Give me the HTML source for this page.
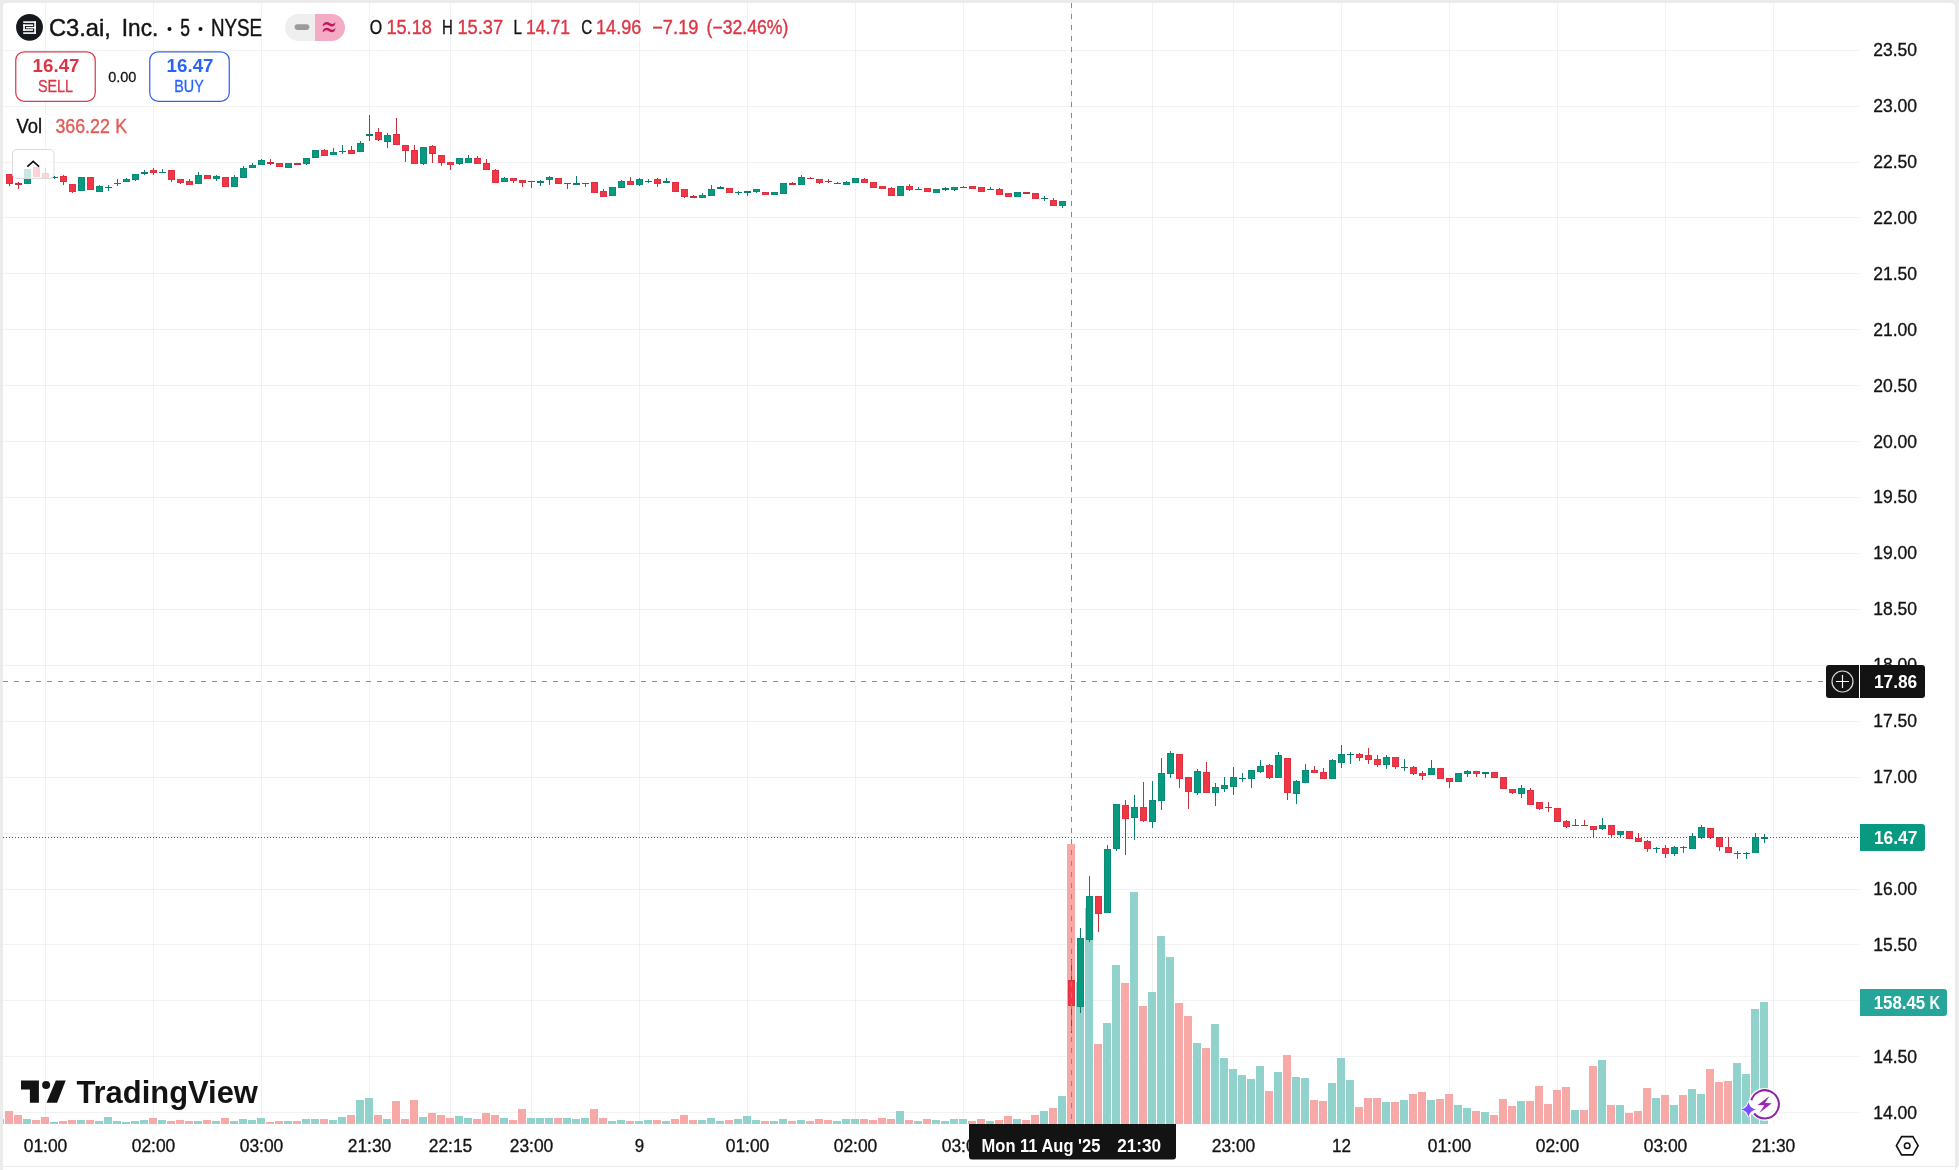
<!DOCTYPE html><html><head><meta charset="utf-8"><title>C3.ai chart</title>
<style>html,body{margin:0;padding:0;background:#ebebeb;}body{width:1959px;height:1170px;overflow:hidden;position:relative;font-family:"Liberation Sans",sans-serif;}svg{position:absolute;left:0;top:0;display:block;will-change:transform;}text{font-family:"Liberation Sans",sans-serif;}</style></head><body>
<svg width="1959" height="1170" viewBox="0 0 1959 1170">
<rect x="0" y="0" width="1959" height="1170" fill="#ebebeb"/>
<path d="M3 1166 V7 a4 4 0 0 1 4 -4 H1951 a4 4 0 0 1 4 4 V1166 Z" fill="#ffffff"/>
<rect x="3" y="1167" width="1952" height="3" fill="#ffffff"/>
<path d="M1959 1166 a4 4 0 0 0 -3 4 h3 z" fill="#ffffff"/>
<g shape-rendering="crispEdges">
<rect x="3" y="50" width="1856" height="1" fill="rgba(0,0,0,0.052)"/>
<rect x="3" y="106" width="1856" height="1" fill="rgba(0,0,0,0.052)"/>
<rect x="3" y="162" width="1856" height="1" fill="rgba(0,0,0,0.052)"/>
<rect x="3" y="217" width="1856" height="1" fill="rgba(0,0,0,0.052)"/>
<rect x="3" y="273" width="1856" height="1" fill="rgba(0,0,0,0.052)"/>
<rect x="3" y="329" width="1856" height="1" fill="rgba(0,0,0,0.052)"/>
<rect x="3" y="385" width="1856" height="1" fill="rgba(0,0,0,0.052)"/>
<rect x="3" y="441" width="1856" height="1" fill="rgba(0,0,0,0.052)"/>
<rect x="3" y="497" width="1856" height="1" fill="rgba(0,0,0,0.052)"/>
<rect x="3" y="553" width="1856" height="1" fill="rgba(0,0,0,0.052)"/>
<rect x="3" y="609" width="1856" height="1" fill="rgba(0,0,0,0.052)"/>
<rect x="3" y="665" width="1856" height="1" fill="rgba(0,0,0,0.052)"/>
<rect x="3" y="721" width="1856" height="1" fill="rgba(0,0,0,0.052)"/>
<rect x="3" y="777" width="1856" height="1" fill="rgba(0,0,0,0.052)"/>
<rect x="3" y="833" width="1856" height="1" fill="rgba(0,0,0,0.052)"/>
<rect x="3" y="889" width="1856" height="1" fill="rgba(0,0,0,0.052)"/>
<rect x="3" y="944" width="1856" height="1" fill="rgba(0,0,0,0.052)"/>
<rect x="3" y="1000" width="1856" height="1" fill="rgba(0,0,0,0.052)"/>
<rect x="3" y="1056" width="1856" height="1" fill="rgba(0,0,0,0.052)"/>
<rect x="3" y="1112" width="1856" height="1" fill="rgba(0,0,0,0.052)"/>
<rect x="45" y="3" width="1" height="1121" fill="rgba(0,0,0,0.052)"/>
<rect x="153" y="3" width="1" height="1121" fill="rgba(0,0,0,0.052)"/>
<rect x="261" y="3" width="1" height="1121" fill="rgba(0,0,0,0.052)"/>
<rect x="369" y="3" width="1" height="1121" fill="rgba(0,0,0,0.052)"/>
<rect x="450" y="3" width="1" height="1121" fill="rgba(0,0,0,0.052)"/>
<rect x="531" y="3" width="1" height="1121" fill="rgba(0,0,0,0.052)"/>
<rect x="639" y="3" width="1" height="1121" fill="rgba(0,0,0,0.052)"/>
<rect x="747" y="3" width="1" height="1121" fill="rgba(0,0,0,0.052)"/>
<rect x="855" y="3" width="1" height="1121" fill="rgba(0,0,0,0.052)"/>
<rect x="963" y="3" width="1" height="1121" fill="rgba(0,0,0,0.052)"/>
<rect x="1071" y="3" width="1" height="1121" fill="rgba(0,0,0,0.052)"/>
<rect x="1152" y="3" width="1" height="1121" fill="rgba(0,0,0,0.052)"/>
<rect x="1233" y="3" width="1" height="1121" fill="rgba(0,0,0,0.052)"/>
<rect x="1341" y="3" width="1" height="1121" fill="rgba(0,0,0,0.052)"/>
<rect x="1449" y="3" width="1" height="1121" fill="rgba(0,0,0,0.052)"/>
<rect x="1557" y="3" width="1" height="1121" fill="rgba(0,0,0,0.052)"/>
<rect x="1665" y="3" width="1" height="1121" fill="rgba(0,0,0,0.052)"/>
<rect x="1773" y="3" width="1" height="1121" fill="rgba(0,0,0,0.052)"/>
<rect x="3" y="1119" width="1" height="5" fill="#f7a9a7"/>
<rect x="5" y="1111" width="8" height="13" fill="#f7a9a7"/>
<rect x="14" y="1115" width="8" height="9" fill="#f7a9a7"/>
<rect x="23" y="1119" width="8" height="5" fill="#92d2cc"/>
<rect x="32" y="1120" width="8" height="4" fill="#f7a9a7"/>
<rect x="41" y="1117" width="8" height="7" fill="#f7a9a7"/>
<rect x="50" y="1122" width="8" height="2" fill="#92d2cc"/>
<rect x="59" y="1121" width="8" height="3" fill="#f7a9a7"/>
<rect x="68" y="1120" width="8" height="4" fill="#f7a9a7"/>
<rect x="77" y="1120" width="8" height="4" fill="#92d2cc"/>
<rect x="86" y="1120" width="8" height="4" fill="#f7a9a7"/>
<rect x="95" y="1121" width="8" height="3" fill="#92d2cc"/>
<rect x="104" y="1117" width="8" height="7" fill="#92d2cc"/>
<rect x="113" y="1121" width="8" height="3" fill="#92d2cc"/>
<rect x="122" y="1122" width="8" height="2" fill="#92d2cc"/>
<rect x="131" y="1121" width="8" height="3" fill="#92d2cc"/>
<rect x="140" y="1120" width="8" height="4" fill="#92d2cc"/>
<rect x="149" y="1118" width="8" height="6" fill="#f7a9a7"/>
<rect x="158" y="1120" width="8" height="4" fill="#92d2cc"/>
<rect x="167" y="1121" width="8" height="3" fill="#f7a9a7"/>
<rect x="176" y="1120" width="8" height="4" fill="#f7a9a7"/>
<rect x="185" y="1121" width="8" height="3" fill="#f7a9a7"/>
<rect x="194" y="1121" width="8" height="3" fill="#92d2cc"/>
<rect x="203" y="1120" width="8" height="4" fill="#f7a9a7"/>
<rect x="212" y="1121" width="8" height="3" fill="#92d2cc"/>
<rect x="221" y="1118" width="8" height="6" fill="#f7a9a7"/>
<rect x="230" y="1121" width="8" height="3" fill="#92d2cc"/>
<rect x="239" y="1119" width="8" height="5" fill="#92d2cc"/>
<rect x="248" y="1120" width="8" height="4" fill="#92d2cc"/>
<rect x="257" y="1118" width="8" height="6" fill="#92d2cc"/>
<rect x="266" y="1122" width="8" height="2" fill="#f7a9a7"/>
<rect x="275" y="1121" width="8" height="3" fill="#f7a9a7"/>
<rect x="284" y="1121" width="8" height="3" fill="#92d2cc"/>
<rect x="293" y="1121" width="8" height="3" fill="#f7a9a7"/>
<rect x="302" y="1119" width="8" height="5" fill="#92d2cc"/>
<rect x="311" y="1119" width="8" height="5" fill="#92d2cc"/>
<rect x="320" y="1119" width="8" height="5" fill="#f7a9a7"/>
<rect x="329" y="1120" width="8" height="4" fill="#92d2cc"/>
<rect x="338" y="1117" width="8" height="7" fill="#92d2cc"/>
<rect x="347" y="1115" width="8" height="9" fill="#f7a9a7"/>
<rect x="356" y="1100" width="8" height="24" fill="#92d2cc"/>
<rect x="365" y="1098" width="8" height="26" fill="#92d2cc"/>
<rect x="374" y="1115" width="8" height="9" fill="#f7a9a7"/>
<rect x="383" y="1119" width="8" height="5" fill="#92d2cc"/>
<rect x="392" y="1101" width="8" height="23" fill="#f7a9a7"/>
<rect x="401" y="1119" width="8" height="5" fill="#f7a9a7"/>
<rect x="410" y="1100" width="8" height="24" fill="#f7a9a7"/>
<rect x="419" y="1117" width="8" height="7" fill="#92d2cc"/>
<rect x="428" y="1113" width="8" height="11" fill="#f7a9a7"/>
<rect x="437" y="1115" width="8" height="9" fill="#f7a9a7"/>
<rect x="446" y="1118" width="8" height="6" fill="#f7a9a7"/>
<rect x="455" y="1116" width="8" height="8" fill="#92d2cc"/>
<rect x="464" y="1118" width="8" height="6" fill="#92d2cc"/>
<rect x="473" y="1119" width="8" height="5" fill="#f7a9a7"/>
<rect x="482" y="1113" width="8" height="11" fill="#f7a9a7"/>
<rect x="491" y="1115" width="8" height="9" fill="#f7a9a7"/>
<rect x="500" y="1118" width="8" height="6" fill="#92d2cc"/>
<rect x="509" y="1120" width="8" height="4" fill="#f7a9a7"/>
<rect x="518" y="1109" width="8" height="15" fill="#f7a9a7"/>
<rect x="527" y="1118" width="8" height="6" fill="#92d2cc"/>
<rect x="536" y="1118" width="8" height="6" fill="#92d2cc"/>
<rect x="545" y="1118" width="8" height="6" fill="#92d2cc"/>
<rect x="554" y="1118" width="8" height="6" fill="#f7a9a7"/>
<rect x="563" y="1118" width="8" height="6" fill="#92d2cc"/>
<rect x="572" y="1119" width="8" height="5" fill="#92d2cc"/>
<rect x="581" y="1118" width="8" height="6" fill="#92d2cc"/>
<rect x="590" y="1109" width="8" height="15" fill="#f7a9a7"/>
<rect x="599" y="1118" width="8" height="6" fill="#f7a9a7"/>
<rect x="608" y="1121" width="8" height="3" fill="#92d2cc"/>
<rect x="617" y="1120" width="8" height="4" fill="#92d2cc"/>
<rect x="626" y="1121" width="8" height="3" fill="#f7a9a7"/>
<rect x="635" y="1121" width="8" height="3" fill="#92d2cc"/>
<rect x="644" y="1120" width="8" height="4" fill="#92d2cc"/>
<rect x="653" y="1120" width="8" height="4" fill="#f7a9a7"/>
<rect x="662" y="1121" width="8" height="3" fill="#92d2cc"/>
<rect x="671" y="1119" width="8" height="5" fill="#f7a9a7"/>
<rect x="680" y="1115" width="8" height="9" fill="#f7a9a7"/>
<rect x="689" y="1120" width="8" height="4" fill="#f7a9a7"/>
<rect x="698" y="1120" width="8" height="4" fill="#92d2cc"/>
<rect x="707" y="1118" width="8" height="6" fill="#92d2cc"/>
<rect x="716" y="1121" width="8" height="3" fill="#92d2cc"/>
<rect x="725" y="1120" width="8" height="4" fill="#f7a9a7"/>
<rect x="734" y="1119" width="8" height="5" fill="#92d2cc"/>
<rect x="743" y="1116" width="8" height="8" fill="#92d2cc"/>
<rect x="752" y="1120" width="8" height="4" fill="#92d2cc"/>
<rect x="761" y="1121" width="8" height="3" fill="#f7a9a7"/>
<rect x="770" y="1121" width="8" height="3" fill="#92d2cc"/>
<rect x="779" y="1119" width="8" height="5" fill="#92d2cc"/>
<rect x="788" y="1121" width="8" height="3" fill="#f7a9a7"/>
<rect x="797" y="1120" width="8" height="4" fill="#92d2cc"/>
<rect x="806" y="1121" width="8" height="3" fill="#f7a9a7"/>
<rect x="815" y="1119" width="8" height="5" fill="#f7a9a7"/>
<rect x="824" y="1120" width="8" height="4" fill="#f7a9a7"/>
<rect x="833" y="1121" width="8" height="3" fill="#92d2cc"/>
<rect x="842" y="1119" width="8" height="5" fill="#92d2cc"/>
<rect x="851" y="1119" width="8" height="5" fill="#92d2cc"/>
<rect x="860" y="1119" width="8" height="5" fill="#f7a9a7"/>
<rect x="869" y="1120" width="8" height="4" fill="#f7a9a7"/>
<rect x="878" y="1118" width="8" height="6" fill="#f7a9a7"/>
<rect x="887" y="1119" width="8" height="5" fill="#f7a9a7"/>
<rect x="896" y="1111" width="8" height="13" fill="#92d2cc"/>
<rect x="905" y="1120" width="8" height="4" fill="#f7a9a7"/>
<rect x="914" y="1121" width="8" height="3" fill="#92d2cc"/>
<rect x="923" y="1119" width="8" height="5" fill="#f7a9a7"/>
<rect x="932" y="1120" width="8" height="4" fill="#92d2cc"/>
<rect x="941" y="1121" width="8" height="3" fill="#92d2cc"/>
<rect x="950" y="1119" width="8" height="5" fill="#92d2cc"/>
<rect x="959" y="1119" width="8" height="5" fill="#92d2cc"/>
<rect x="968" y="1121" width="8" height="3" fill="#f7a9a7"/>
<rect x="977" y="1119" width="8" height="5" fill="#f7a9a7"/>
<rect x="986" y="1121" width="8" height="3" fill="#92d2cc"/>
<rect x="995" y="1120" width="8" height="4" fill="#f7a9a7"/>
<rect x="1004" y="1116" width="8" height="8" fill="#f7a9a7"/>
<rect x="1013" y="1119" width="8" height="5" fill="#92d2cc"/>
<rect x="1022" y="1120" width="8" height="4" fill="#f7a9a7"/>
<rect x="1031" y="1115" width="8" height="9" fill="#f7a9a7"/>
<rect x="1040" y="1111" width="8" height="13" fill="#92d2cc"/>
<rect x="1049" y="1108" width="8" height="16" fill="#f7a9a7"/>
<rect x="1058" y="1096" width="8" height="28" fill="#92d2cc"/>
<rect x="1067" y="844" width="8" height="280" fill="#f7a9a7"/>
<rect x="1076" y="982" width="8" height="142" fill="#92d2cc"/>
<rect x="1085" y="908" width="8" height="216" fill="#92d2cc"/>
<rect x="1094" y="1044" width="8" height="80" fill="#f7a9a7"/>
<rect x="1103" y="1023" width="8" height="101" fill="#92d2cc"/>
<rect x="1112" y="965" width="8" height="159" fill="#92d2cc"/>
<rect x="1121" y="983" width="8" height="141" fill="#f7a9a7"/>
<rect x="1130" y="892" width="8" height="232" fill="#92d2cc"/>
<rect x="1139" y="1006" width="8" height="118" fill="#f7a9a7"/>
<rect x="1148" y="992" width="8" height="132" fill="#92d2cc"/>
<rect x="1157" y="936" width="8" height="188" fill="#92d2cc"/>
<rect x="1166" y="957" width="8" height="167" fill="#92d2cc"/>
<rect x="1175" y="1003" width="8" height="121" fill="#f7a9a7"/>
<rect x="1184" y="1016" width="8" height="108" fill="#f7a9a7"/>
<rect x="1193" y="1043" width="8" height="81" fill="#92d2cc"/>
<rect x="1202" y="1048" width="8" height="76" fill="#f7a9a7"/>
<rect x="1211" y="1024" width="8" height="100" fill="#92d2cc"/>
<rect x="1220" y="1058" width="8" height="66" fill="#92d2cc"/>
<rect x="1229" y="1069" width="8" height="55" fill="#92d2cc"/>
<rect x="1238" y="1075" width="8" height="49" fill="#92d2cc"/>
<rect x="1247" y="1079" width="8" height="45" fill="#92d2cc"/>
<rect x="1256" y="1066" width="8" height="58" fill="#92d2cc"/>
<rect x="1265" y="1091" width="8" height="33" fill="#f7a9a7"/>
<rect x="1274" y="1072" width="8" height="52" fill="#92d2cc"/>
<rect x="1283" y="1055" width="8" height="69" fill="#f7a9a7"/>
<rect x="1292" y="1077" width="8" height="47" fill="#92d2cc"/>
<rect x="1301" y="1078" width="8" height="46" fill="#92d2cc"/>
<rect x="1310" y="1100" width="8" height="24" fill="#f7a9a7"/>
<rect x="1319" y="1101" width="8" height="23" fill="#f7a9a7"/>
<rect x="1328" y="1083" width="8" height="41" fill="#92d2cc"/>
<rect x="1337" y="1058" width="8" height="66" fill="#92d2cc"/>
<rect x="1346" y="1080" width="8" height="44" fill="#92d2cc"/>
<rect x="1355" y="1107" width="8" height="17" fill="#f7a9a7"/>
<rect x="1364" y="1098" width="8" height="26" fill="#f7a9a7"/>
<rect x="1373" y="1098" width="8" height="26" fill="#f7a9a7"/>
<rect x="1382" y="1102" width="8" height="22" fill="#92d2cc"/>
<rect x="1391" y="1102" width="8" height="22" fill="#f7a9a7"/>
<rect x="1400" y="1100" width="8" height="24" fill="#92d2cc"/>
<rect x="1409" y="1094" width="8" height="30" fill="#f7a9a7"/>
<rect x="1418" y="1092" width="8" height="32" fill="#f7a9a7"/>
<rect x="1427" y="1100" width="8" height="24" fill="#92d2cc"/>
<rect x="1436" y="1099" width="8" height="25" fill="#f7a9a7"/>
<rect x="1445" y="1094" width="8" height="30" fill="#f7a9a7"/>
<rect x="1454" y="1105" width="8" height="19" fill="#92d2cc"/>
<rect x="1463" y="1108" width="8" height="16" fill="#92d2cc"/>
<rect x="1472" y="1111" width="8" height="13" fill="#f7a9a7"/>
<rect x="1481" y="1112" width="8" height="12" fill="#92d2cc"/>
<rect x="1490" y="1115" width="8" height="9" fill="#f7a9a7"/>
<rect x="1499" y="1099" width="8" height="25" fill="#f7a9a7"/>
<rect x="1508" y="1106" width="8" height="18" fill="#f7a9a7"/>
<rect x="1517" y="1101" width="8" height="23" fill="#92d2cc"/>
<rect x="1526" y="1101" width="8" height="23" fill="#f7a9a7"/>
<rect x="1535" y="1086" width="8" height="38" fill="#f7a9a7"/>
<rect x="1544" y="1104" width="8" height="20" fill="#f7a9a7"/>
<rect x="1553" y="1090" width="8" height="34" fill="#f7a9a7"/>
<rect x="1562" y="1087" width="8" height="37" fill="#f7a9a7"/>
<rect x="1571" y="1110" width="8" height="14" fill="#92d2cc"/>
<rect x="1580" y="1110" width="8" height="14" fill="#f7a9a7"/>
<rect x="1589" y="1066" width="8" height="58" fill="#f7a9a7"/>
<rect x="1598" y="1060" width="8" height="64" fill="#92d2cc"/>
<rect x="1607" y="1105" width="8" height="19" fill="#f7a9a7"/>
<rect x="1616" y="1105" width="8" height="19" fill="#92d2cc"/>
<rect x="1625" y="1113" width="8" height="11" fill="#f7a9a7"/>
<rect x="1634" y="1111" width="8" height="13" fill="#f7a9a7"/>
<rect x="1643" y="1088" width="8" height="36" fill="#f7a9a7"/>
<rect x="1652" y="1098" width="8" height="26" fill="#92d2cc"/>
<rect x="1661" y="1095" width="8" height="29" fill="#f7a9a7"/>
<rect x="1670" y="1105" width="8" height="19" fill="#92d2cc"/>
<rect x="1679" y="1095" width="8" height="29" fill="#f7a9a7"/>
<rect x="1688" y="1089" width="8" height="35" fill="#92d2cc"/>
<rect x="1697" y="1094" width="8" height="30" fill="#92d2cc"/>
<rect x="1706" y="1069" width="8" height="55" fill="#f7a9a7"/>
<rect x="1715" y="1082" width="8" height="42" fill="#f7a9a7"/>
<rect x="1724" y="1081" width="8" height="43" fill="#f7a9a7"/>
<rect x="1733" y="1063" width="8" height="61" fill="#92d2cc"/>
<rect x="1742" y="1074" width="8" height="50" fill="#92d2cc"/>
<rect x="1751" y="1009" width="8" height="115" fill="#92d2cc"/>
<rect x="1760" y="1002" width="8" height="122" fill="#92d2cc"/>
<rect x="9" y="174" width="1" height="12" fill="#c3303c"/>
<rect x="6" y="174" width="7" height="10" fill="#dc3241"/>
<rect x="7" y="175" width="5" height="8" fill="#f23645"/>
<rect x="18" y="182" width="1" height="7" fill="#c3303c"/>
<rect x="15" y="183" width="7" height="2" fill="#c3303c"/>
<rect x="27" y="169" width="1" height="15" fill="#0b7f6d"/>
<rect x="24" y="169" width="7" height="15" fill="#0a8b76"/>
<rect x="25" y="170" width="5" height="13" fill="#089981"/>
<rect x="36" y="167" width="1" height="10" fill="#c3303c"/>
<rect x="33" y="167" width="7" height="10" fill="#dc3241"/>
<rect x="34" y="168" width="5" height="8" fill="#f23645"/>
<rect x="45" y="168" width="1" height="10" fill="#c3303c"/>
<rect x="42" y="173" width="7" height="5" fill="#dc3241"/>
<rect x="43" y="174" width="5" height="3" fill="#f23645"/>
<rect x="54" y="176" width="1" height="3" fill="#0b7f6d"/>
<rect x="51" y="177" width="7" height="1" fill="#0b7f6d"/>
<rect x="63" y="175" width="1" height="10" fill="#c3303c"/>
<rect x="60" y="176" width="7" height="6" fill="#dc3241"/>
<rect x="61" y="177" width="5" height="4" fill="#f23645"/>
<rect x="72" y="184" width="1" height="9" fill="#c3303c"/>
<rect x="69" y="184" width="7" height="8" fill="#dc3241"/>
<rect x="70" y="185" width="5" height="6" fill="#f23645"/>
<rect x="81" y="177" width="1" height="14" fill="#0b7f6d"/>
<rect x="78" y="177" width="7" height="14" fill="#0a8b76"/>
<rect x="79" y="178" width="5" height="12" fill="#089981"/>
<rect x="90" y="177" width="1" height="13" fill="#c3303c"/>
<rect x="87" y="177" width="7" height="13" fill="#dc3241"/>
<rect x="88" y="178" width="5" height="11" fill="#f23645"/>
<rect x="99" y="185" width="1" height="7" fill="#0b7f6d"/>
<rect x="96" y="186" width="7" height="6" fill="#0a8b76"/>
<rect x="97" y="187" width="5" height="4" fill="#089981"/>
<rect x="108" y="185" width="1" height="6" fill="#0b7f6d"/>
<rect x="105" y="187" width="7" height="1" fill="#0b7f6d"/>
<rect x="117" y="179" width="1" height="7" fill="#0b7f6d"/>
<rect x="114" y="183" width="7" height="1" fill="#0b7f6d"/>
<rect x="126" y="178" width="1" height="4" fill="#0b7f6d"/>
<rect x="123" y="179" width="7" height="3" fill="#0a8b76"/>
<rect x="124" y="180" width="5" height="1" fill="#089981"/>
<rect x="135" y="174" width="1" height="7" fill="#0b7f6d"/>
<rect x="132" y="174" width="7" height="6" fill="#0a8b76"/>
<rect x="133" y="175" width="5" height="4" fill="#089981"/>
<rect x="144" y="170" width="1" height="5" fill="#0b7f6d"/>
<rect x="141" y="172" width="7" height="2" fill="#0b7f6d"/>
<rect x="153" y="168" width="1" height="7" fill="#c3303c"/>
<rect x="150" y="170" width="7" height="3" fill="#dc3241"/>
<rect x="151" y="171" width="5" height="1" fill="#f23645"/>
<rect x="162" y="169" width="1" height="4" fill="#0b7f6d"/>
<rect x="159" y="172" width="7" height="1" fill="#0b7f6d"/>
<rect x="171" y="170" width="1" height="12" fill="#c3303c"/>
<rect x="168" y="170" width="7" height="10" fill="#dc3241"/>
<rect x="169" y="171" width="5" height="8" fill="#f23645"/>
<rect x="180" y="179" width="1" height="5" fill="#c3303c"/>
<rect x="177" y="179" width="7" height="4" fill="#dc3241"/>
<rect x="178" y="180" width="5" height="2" fill="#f23645"/>
<rect x="189" y="179" width="1" height="6" fill="#c3303c"/>
<rect x="186" y="181" width="7" height="4" fill="#dc3241"/>
<rect x="187" y="182" width="5" height="2" fill="#f23645"/>
<rect x="198" y="172" width="1" height="12" fill="#0b7f6d"/>
<rect x="195" y="175" width="7" height="9" fill="#0a8b76"/>
<rect x="196" y="176" width="5" height="7" fill="#089981"/>
<rect x="207" y="175" width="1" height="4" fill="#c3303c"/>
<rect x="204" y="175" width="7" height="4" fill="#dc3241"/>
<rect x="205" y="176" width="5" height="2" fill="#f23645"/>
<rect x="216" y="175" width="1" height="6" fill="#0b7f6d"/>
<rect x="213" y="176" width="7" height="3" fill="#0a8b76"/>
<rect x="214" y="177" width="5" height="1" fill="#089981"/>
<rect x="225" y="177" width="1" height="10" fill="#c3303c"/>
<rect x="222" y="177" width="7" height="10" fill="#dc3241"/>
<rect x="223" y="178" width="5" height="8" fill="#f23645"/>
<rect x="234" y="175" width="1" height="12" fill="#0b7f6d"/>
<rect x="231" y="177" width="7" height="10" fill="#0a8b76"/>
<rect x="232" y="178" width="5" height="8" fill="#089981"/>
<rect x="243" y="166" width="1" height="12" fill="#0b7f6d"/>
<rect x="240" y="168" width="7" height="10" fill="#0a8b76"/>
<rect x="241" y="169" width="5" height="8" fill="#089981"/>
<rect x="252" y="163" width="1" height="5" fill="#0b7f6d"/>
<rect x="249" y="165" width="7" height="3" fill="#0a8b76"/>
<rect x="250" y="166" width="5" height="1" fill="#089981"/>
<rect x="261" y="159" width="1" height="6" fill="#0b7f6d"/>
<rect x="258" y="160" width="7" height="5" fill="#0a8b76"/>
<rect x="259" y="161" width="5" height="3" fill="#089981"/>
<rect x="270" y="159" width="1" height="6" fill="#c3303c"/>
<rect x="267" y="162" width="7" height="2" fill="#c3303c"/>
<rect x="279" y="163" width="1" height="4" fill="#c3303c"/>
<rect x="276" y="163" width="7" height="4" fill="#dc3241"/>
<rect x="277" y="164" width="5" height="2" fill="#f23645"/>
<rect x="288" y="163" width="1" height="5" fill="#0b7f6d"/>
<rect x="285" y="163" width="7" height="5" fill="#0a8b76"/>
<rect x="286" y="164" width="5" height="3" fill="#089981"/>
<rect x="297" y="163" width="1" height="2" fill="#c3303c"/>
<rect x="294" y="163" width="7" height="2" fill="#c3303c"/>
<rect x="306" y="158" width="1" height="7" fill="#0b7f6d"/>
<rect x="303" y="158" width="7" height="6" fill="#0a8b76"/>
<rect x="304" y="159" width="5" height="4" fill="#089981"/>
<rect x="315" y="150" width="1" height="8" fill="#0b7f6d"/>
<rect x="312" y="150" width="7" height="8" fill="#0a8b76"/>
<rect x="313" y="151" width="5" height="6" fill="#089981"/>
<rect x="324" y="149" width="1" height="7" fill="#c3303c"/>
<rect x="321" y="150" width="7" height="6" fill="#dc3241"/>
<rect x="322" y="151" width="5" height="4" fill="#f23645"/>
<rect x="333" y="148" width="1" height="7" fill="#0b7f6d"/>
<rect x="330" y="152" width="7" height="3" fill="#0a8b76"/>
<rect x="331" y="153" width="5" height="1" fill="#089981"/>
<rect x="342" y="145" width="1" height="9" fill="#0b7f6d"/>
<rect x="339" y="151" width="7" height="1" fill="#0b7f6d"/>
<rect x="351" y="146" width="1" height="8" fill="#c3303c"/>
<rect x="348" y="150" width="7" height="4" fill="#dc3241"/>
<rect x="349" y="151" width="5" height="2" fill="#f23645"/>
<rect x="360" y="141" width="1" height="11" fill="#0b7f6d"/>
<rect x="357" y="143" width="7" height="9" fill="#0a8b76"/>
<rect x="358" y="144" width="5" height="7" fill="#089981"/>
<rect x="369" y="115" width="1" height="26" fill="#0b7f6d"/>
<rect x="366" y="134" width="7" height="2" fill="#0b7f6d"/>
<rect x="378" y="128" width="1" height="13" fill="#c3303c"/>
<rect x="375" y="132" width="7" height="8" fill="#dc3241"/>
<rect x="376" y="133" width="5" height="6" fill="#f23645"/>
<rect x="387" y="133" width="1" height="15" fill="#0b7f6d"/>
<rect x="384" y="135" width="7" height="7" fill="#0a8b76"/>
<rect x="385" y="136" width="5" height="5" fill="#089981"/>
<rect x="396" y="118" width="1" height="27" fill="#c3303c"/>
<rect x="393" y="134" width="7" height="11" fill="#dc3241"/>
<rect x="394" y="135" width="5" height="9" fill="#f23645"/>
<rect x="405" y="145" width="1" height="17" fill="#c3303c"/>
<rect x="402" y="145" width="7" height="6" fill="#dc3241"/>
<rect x="403" y="146" width="5" height="4" fill="#f23645"/>
<rect x="414" y="145" width="1" height="19" fill="#c3303c"/>
<rect x="411" y="150" width="7" height="14" fill="#dc3241"/>
<rect x="412" y="151" width="5" height="12" fill="#f23645"/>
<rect x="423" y="147" width="1" height="18" fill="#0b7f6d"/>
<rect x="420" y="147" width="7" height="17" fill="#0a8b76"/>
<rect x="421" y="148" width="5" height="15" fill="#089981"/>
<rect x="432" y="145" width="1" height="18" fill="#c3303c"/>
<rect x="429" y="146" width="7" height="8" fill="#dc3241"/>
<rect x="430" y="147" width="5" height="6" fill="#f23645"/>
<rect x="441" y="155" width="1" height="11" fill="#c3303c"/>
<rect x="438" y="155" width="7" height="8" fill="#dc3241"/>
<rect x="439" y="156" width="5" height="6" fill="#f23645"/>
<rect x="450" y="162" width="1" height="8" fill="#c3303c"/>
<rect x="447" y="162" width="7" height="3" fill="#dc3241"/>
<rect x="448" y="163" width="5" height="1" fill="#f23645"/>
<rect x="459" y="158" width="1" height="7" fill="#0b7f6d"/>
<rect x="456" y="158" width="7" height="6" fill="#0a8b76"/>
<rect x="457" y="159" width="5" height="4" fill="#089981"/>
<rect x="468" y="155" width="1" height="8" fill="#0b7f6d"/>
<rect x="465" y="158" width="7" height="5" fill="#0a8b76"/>
<rect x="466" y="159" width="5" height="3" fill="#089981"/>
<rect x="477" y="156" width="1" height="8" fill="#c3303c"/>
<rect x="474" y="158" width="7" height="6" fill="#dc3241"/>
<rect x="475" y="159" width="5" height="4" fill="#f23645"/>
<rect x="486" y="159" width="1" height="11" fill="#c3303c"/>
<rect x="483" y="163" width="7" height="7" fill="#dc3241"/>
<rect x="484" y="164" width="5" height="5" fill="#f23645"/>
<rect x="495" y="169" width="1" height="14" fill="#c3303c"/>
<rect x="492" y="170" width="7" height="13" fill="#dc3241"/>
<rect x="493" y="171" width="5" height="11" fill="#f23645"/>
<rect x="504" y="177" width="1" height="5" fill="#0b7f6d"/>
<rect x="501" y="178" width="7" height="4" fill="#0a8b76"/>
<rect x="502" y="179" width="5" height="2" fill="#089981"/>
<rect x="513" y="178" width="1" height="5" fill="#c3303c"/>
<rect x="510" y="178" width="7" height="3" fill="#dc3241"/>
<rect x="511" y="179" width="5" height="1" fill="#f23645"/>
<rect x="522" y="180" width="1" height="7" fill="#c3303c"/>
<rect x="519" y="180" width="7" height="3" fill="#dc3241"/>
<rect x="520" y="181" width="5" height="1" fill="#f23645"/>
<rect x="531" y="181" width="1" height="7" fill="#0b7f6d"/>
<rect x="528" y="181" width="7" height="1" fill="#0b7f6d"/>
<rect x="540" y="180" width="1" height="6" fill="#0b7f6d"/>
<rect x="537" y="181" width="7" height="2" fill="#0b7f6d"/>
<rect x="549" y="176" width="1" height="9" fill="#0b7f6d"/>
<rect x="546" y="177" width="7" height="3" fill="#0a8b76"/>
<rect x="547" y="178" width="5" height="1" fill="#089981"/>
<rect x="558" y="178" width="1" height="6" fill="#c3303c"/>
<rect x="555" y="178" width="7" height="6" fill="#dc3241"/>
<rect x="556" y="179" width="5" height="4" fill="#f23645"/>
<rect x="567" y="183" width="1" height="6" fill="#0b7f6d"/>
<rect x="564" y="183" width="7" height="1" fill="#0b7f6d"/>
<rect x="576" y="176" width="1" height="9" fill="#0b7f6d"/>
<rect x="573" y="183" width="7" height="2" fill="#0b7f6d"/>
<rect x="585" y="183" width="1" height="4" fill="#0b7f6d"/>
<rect x="582" y="183" width="7" height="1" fill="#0b7f6d"/>
<rect x="594" y="182" width="1" height="11" fill="#c3303c"/>
<rect x="591" y="182" width="7" height="11" fill="#dc3241"/>
<rect x="592" y="183" width="5" height="9" fill="#f23645"/>
<rect x="603" y="189" width="1" height="8" fill="#c3303c"/>
<rect x="600" y="191" width="7" height="6" fill="#dc3241"/>
<rect x="601" y="192" width="5" height="4" fill="#f23645"/>
<rect x="612" y="187" width="1" height="9" fill="#0b7f6d"/>
<rect x="609" y="187" width="7" height="9" fill="#0a8b76"/>
<rect x="610" y="188" width="5" height="7" fill="#089981"/>
<rect x="621" y="180" width="1" height="8" fill="#0b7f6d"/>
<rect x="618" y="181" width="7" height="7" fill="#0a8b76"/>
<rect x="619" y="182" width="5" height="5" fill="#089981"/>
<rect x="630" y="177" width="1" height="8" fill="#c3303c"/>
<rect x="627" y="181" width="7" height="4" fill="#dc3241"/>
<rect x="628" y="182" width="5" height="2" fill="#f23645"/>
<rect x="639" y="178" width="1" height="8" fill="#0b7f6d"/>
<rect x="636" y="179" width="7" height="6" fill="#0a8b76"/>
<rect x="637" y="180" width="5" height="4" fill="#089981"/>
<rect x="648" y="179" width="1" height="4" fill="#0b7f6d"/>
<rect x="645" y="181" width="7" height="1" fill="#0b7f6d"/>
<rect x="657" y="178" width="1" height="9" fill="#c3303c"/>
<rect x="654" y="179" width="7" height="5" fill="#dc3241"/>
<rect x="655" y="180" width="5" height="3" fill="#f23645"/>
<rect x="666" y="178" width="1" height="5" fill="#0b7f6d"/>
<rect x="663" y="181" width="7" height="2" fill="#0b7f6d"/>
<rect x="675" y="182" width="1" height="10" fill="#c3303c"/>
<rect x="672" y="182" width="7" height="10" fill="#dc3241"/>
<rect x="673" y="183" width="5" height="8" fill="#f23645"/>
<rect x="684" y="189" width="1" height="9" fill="#c3303c"/>
<rect x="681" y="189" width="7" height="8" fill="#dc3241"/>
<rect x="682" y="190" width="5" height="6" fill="#f23645"/>
<rect x="693" y="195" width="1" height="3" fill="#c3303c"/>
<rect x="690" y="196" width="7" height="2" fill="#c3303c"/>
<rect x="702" y="193" width="1" height="5" fill="#0b7f6d"/>
<rect x="699" y="195" width="7" height="3" fill="#0a8b76"/>
<rect x="700" y="196" width="5" height="1" fill="#089981"/>
<rect x="711" y="185" width="1" height="11" fill="#0b7f6d"/>
<rect x="708" y="189" width="7" height="7" fill="#0a8b76"/>
<rect x="709" y="190" width="5" height="5" fill="#089981"/>
<rect x="720" y="186" width="1" height="3" fill="#0b7f6d"/>
<rect x="717" y="187" width="7" height="2" fill="#0b7f6d"/>
<rect x="729" y="188" width="1" height="5" fill="#c3303c"/>
<rect x="726" y="188" width="7" height="5" fill="#dc3241"/>
<rect x="727" y="189" width="5" height="3" fill="#f23645"/>
<rect x="738" y="191" width="1" height="4" fill="#0b7f6d"/>
<rect x="735" y="192" width="7" height="1" fill="#0b7f6d"/>
<rect x="747" y="191" width="1" height="5" fill="#0b7f6d"/>
<rect x="744" y="191" width="7" height="2" fill="#0b7f6d"/>
<rect x="756" y="189" width="1" height="4" fill="#0b7f6d"/>
<rect x="753" y="189" width="7" height="3" fill="#0a8b76"/>
<rect x="754" y="190" width="5" height="1" fill="#089981"/>
<rect x="765" y="192" width="1" height="3" fill="#c3303c"/>
<rect x="762" y="192" width="7" height="3" fill="#dc3241"/>
<rect x="763" y="193" width="5" height="1" fill="#f23645"/>
<rect x="774" y="192" width="1" height="3" fill="#0b7f6d"/>
<rect x="771" y="192" width="7" height="3" fill="#0a8b76"/>
<rect x="772" y="193" width="5" height="1" fill="#089981"/>
<rect x="783" y="183" width="1" height="11" fill="#0b7f6d"/>
<rect x="780" y="183" width="7" height="11" fill="#0a8b76"/>
<rect x="781" y="184" width="5" height="9" fill="#089981"/>
<rect x="792" y="182" width="1" height="3" fill="#c3303c"/>
<rect x="789" y="183" width="7" height="2" fill="#c3303c"/>
<rect x="801" y="175" width="1" height="10" fill="#0b7f6d"/>
<rect x="798" y="177" width="7" height="8" fill="#0a8b76"/>
<rect x="799" y="178" width="5" height="6" fill="#089981"/>
<rect x="810" y="177" width="1" height="2" fill="#c3303c"/>
<rect x="807" y="178" width="7" height="1" fill="#c3303c"/>
<rect x="819" y="179" width="1" height="5" fill="#c3303c"/>
<rect x="816" y="179" width="7" height="4" fill="#dc3241"/>
<rect x="817" y="180" width="5" height="2" fill="#f23645"/>
<rect x="828" y="179" width="1" height="4" fill="#c3303c"/>
<rect x="825" y="181" width="7" height="1" fill="#c3303c"/>
<rect x="837" y="182" width="1" height="2" fill="#0b7f6d"/>
<rect x="834" y="183" width="7" height="1" fill="#0b7f6d"/>
<rect x="846" y="181" width="1" height="4" fill="#0b7f6d"/>
<rect x="843" y="182" width="7" height="3" fill="#0a8b76"/>
<rect x="844" y="183" width="5" height="1" fill="#089981"/>
<rect x="855" y="178" width="1" height="5" fill="#0b7f6d"/>
<rect x="852" y="178" width="7" height="5" fill="#0a8b76"/>
<rect x="853" y="179" width="5" height="3" fill="#089981"/>
<rect x="864" y="178" width="1" height="5" fill="#c3303c"/>
<rect x="861" y="179" width="7" height="4" fill="#dc3241"/>
<rect x="862" y="180" width="5" height="2" fill="#f23645"/>
<rect x="873" y="182" width="1" height="6" fill="#c3303c"/>
<rect x="870" y="182" width="7" height="6" fill="#dc3241"/>
<rect x="871" y="183" width="5" height="4" fill="#f23645"/>
<rect x="882" y="186" width="1" height="3" fill="#c3303c"/>
<rect x="879" y="186" width="7" height="3" fill="#dc3241"/>
<rect x="880" y="187" width="5" height="1" fill="#f23645"/>
<rect x="891" y="187" width="1" height="9" fill="#c3303c"/>
<rect x="888" y="188" width="7" height="8" fill="#dc3241"/>
<rect x="889" y="189" width="5" height="6" fill="#f23645"/>
<rect x="900" y="186" width="1" height="10" fill="#0b7f6d"/>
<rect x="897" y="186" width="7" height="10" fill="#0a8b76"/>
<rect x="898" y="187" width="5" height="8" fill="#089981"/>
<rect x="909" y="184" width="1" height="7" fill="#c3303c"/>
<rect x="906" y="186" width="7" height="4" fill="#dc3241"/>
<rect x="907" y="187" width="5" height="2" fill="#f23645"/>
<rect x="918" y="187" width="1" height="3" fill="#0b7f6d"/>
<rect x="915" y="189" width="7" height="1" fill="#0b7f6d"/>
<rect x="927" y="188" width="1" height="4" fill="#c3303c"/>
<rect x="924" y="188" width="7" height="4" fill="#dc3241"/>
<rect x="925" y="189" width="5" height="2" fill="#f23645"/>
<rect x="936" y="189" width="1" height="4" fill="#0b7f6d"/>
<rect x="933" y="189" width="7" height="4" fill="#0a8b76"/>
<rect x="934" y="190" width="5" height="2" fill="#089981"/>
<rect x="945" y="187" width="1" height="4" fill="#0b7f6d"/>
<rect x="942" y="188" width="7" height="2" fill="#0b7f6d"/>
<rect x="954" y="187" width="1" height="4" fill="#0b7f6d"/>
<rect x="951" y="187" width="7" height="3" fill="#0a8b76"/>
<rect x="952" y="188" width="5" height="1" fill="#089981"/>
<rect x="963" y="186" width="1" height="2" fill="#0b7f6d"/>
<rect x="960" y="187" width="7" height="1" fill="#0b7f6d"/>
<rect x="972" y="186" width="1" height="3" fill="#c3303c"/>
<rect x="969" y="186" width="7" height="3" fill="#dc3241"/>
<rect x="970" y="187" width="5" height="1" fill="#f23645"/>
<rect x="981" y="187" width="1" height="5" fill="#c3303c"/>
<rect x="978" y="187" width="7" height="5" fill="#dc3241"/>
<rect x="979" y="188" width="5" height="3" fill="#f23645"/>
<rect x="990" y="187" width="1" height="3" fill="#0b7f6d"/>
<rect x="987" y="189" width="7" height="1" fill="#0b7f6d"/>
<rect x="999" y="188" width="1" height="7" fill="#c3303c"/>
<rect x="996" y="189" width="7" height="6" fill="#dc3241"/>
<rect x="997" y="190" width="5" height="4" fill="#f23645"/>
<rect x="1008" y="193" width="1" height="4" fill="#c3303c"/>
<rect x="1005" y="193" width="7" height="4" fill="#dc3241"/>
<rect x="1006" y="194" width="5" height="2" fill="#f23645"/>
<rect x="1017" y="192" width="1" height="5" fill="#0b7f6d"/>
<rect x="1014" y="192" width="7" height="5" fill="#0a8b76"/>
<rect x="1015" y="193" width="5" height="3" fill="#089981"/>
<rect x="1026" y="192" width="1" height="2" fill="#c3303c"/>
<rect x="1023" y="192" width="7" height="2" fill="#c3303c"/>
<rect x="1035" y="193" width="1" height="6" fill="#c3303c"/>
<rect x="1032" y="193" width="7" height="6" fill="#dc3241"/>
<rect x="1033" y="194" width="5" height="4" fill="#f23645"/>
<rect x="1044" y="196" width="1" height="5" fill="#0b7f6d"/>
<rect x="1041" y="198" width="7" height="1" fill="#0b7f6d"/>
<rect x="1053" y="198" width="1" height="8" fill="#c3303c"/>
<rect x="1050" y="200" width="7" height="6" fill="#dc3241"/>
<rect x="1051" y="201" width="5" height="4" fill="#f23645"/>
<rect x="1062" y="201" width="1" height="7" fill="#0b7f6d"/>
<rect x="1059" y="201" width="7" height="5" fill="#0a8b76"/>
<rect x="1060" y="202" width="5" height="3" fill="#089981"/>
<rect x="1071" y="959" width="1" height="74" fill="#c3303c"/>
<rect x="1068" y="980" width="7" height="26" fill="#dc3241"/>
<rect x="1069" y="981" width="5" height="24" fill="#f23645"/>
<rect x="1080" y="928" width="1" height="85" fill="#0b7f6d"/>
<rect x="1077" y="938" width="7" height="69" fill="#0a8b76"/>
<rect x="1078" y="939" width="5" height="67" fill="#089981"/>
<rect x="1089" y="876" width="1" height="66" fill="#0b7f6d"/>
<rect x="1086" y="896" width="7" height="44" fill="#0a8b76"/>
<rect x="1087" y="897" width="5" height="42" fill="#089981"/>
<rect x="1098" y="896" width="1" height="36" fill="#c3303c"/>
<rect x="1095" y="896" width="7" height="18" fill="#dc3241"/>
<rect x="1096" y="897" width="5" height="16" fill="#f23645"/>
<rect x="1107" y="845" width="1" height="68" fill="#0b7f6d"/>
<rect x="1104" y="849" width="7" height="64" fill="#0a8b76"/>
<rect x="1105" y="850" width="5" height="62" fill="#089981"/>
<rect x="1116" y="804" width="1" height="47" fill="#0b7f6d"/>
<rect x="1113" y="804" width="7" height="45" fill="#0a8b76"/>
<rect x="1114" y="805" width="5" height="43" fill="#089981"/>
<rect x="1125" y="800" width="1" height="55" fill="#c3303c"/>
<rect x="1122" y="805" width="7" height="14" fill="#dc3241"/>
<rect x="1123" y="806" width="5" height="12" fill="#f23645"/>
<rect x="1134" y="795" width="1" height="45" fill="#0b7f6d"/>
<rect x="1131" y="807" width="7" height="11" fill="#0a8b76"/>
<rect x="1132" y="808" width="5" height="9" fill="#089981"/>
<rect x="1143" y="782" width="1" height="40" fill="#c3303c"/>
<rect x="1140" y="807" width="7" height="14" fill="#dc3241"/>
<rect x="1141" y="808" width="5" height="12" fill="#f23645"/>
<rect x="1152" y="781" width="1" height="47" fill="#0b7f6d"/>
<rect x="1149" y="800" width="7" height="22" fill="#0a8b76"/>
<rect x="1150" y="801" width="5" height="20" fill="#089981"/>
<rect x="1161" y="758" width="1" height="52" fill="#0b7f6d"/>
<rect x="1158" y="773" width="7" height="28" fill="#0a8b76"/>
<rect x="1159" y="774" width="5" height="26" fill="#089981"/>
<rect x="1170" y="751" width="1" height="27" fill="#0b7f6d"/>
<rect x="1167" y="753" width="7" height="21" fill="#0a8b76"/>
<rect x="1168" y="754" width="5" height="19" fill="#089981"/>
<rect x="1179" y="754" width="1" height="34" fill="#c3303c"/>
<rect x="1176" y="754" width="7" height="25" fill="#dc3241"/>
<rect x="1177" y="755" width="5" height="23" fill="#f23645"/>
<rect x="1188" y="777" width="1" height="32" fill="#c3303c"/>
<rect x="1185" y="777" width="7" height="15" fill="#dc3241"/>
<rect x="1186" y="778" width="5" height="13" fill="#f23645"/>
<rect x="1197" y="769" width="1" height="26" fill="#0b7f6d"/>
<rect x="1194" y="771" width="7" height="22" fill="#0a8b76"/>
<rect x="1195" y="772" width="5" height="20" fill="#089981"/>
<rect x="1206" y="762" width="1" height="31" fill="#c3303c"/>
<rect x="1203" y="772" width="7" height="21" fill="#dc3241"/>
<rect x="1204" y="773" width="5" height="19" fill="#f23645"/>
<rect x="1215" y="783" width="1" height="23" fill="#0b7f6d"/>
<rect x="1212" y="787" width="7" height="6" fill="#0a8b76"/>
<rect x="1213" y="788" width="5" height="4" fill="#089981"/>
<rect x="1224" y="777" width="1" height="15" fill="#0b7f6d"/>
<rect x="1221" y="785" width="7" height="4" fill="#0a8b76"/>
<rect x="1222" y="786" width="5" height="2" fill="#089981"/>
<rect x="1233" y="767" width="1" height="28" fill="#0b7f6d"/>
<rect x="1230" y="777" width="7" height="10" fill="#0a8b76"/>
<rect x="1231" y="778" width="5" height="8" fill="#089981"/>
<rect x="1242" y="773" width="1" height="9" fill="#0b7f6d"/>
<rect x="1239" y="778" width="7" height="1" fill="#0b7f6d"/>
<rect x="1251" y="770" width="1" height="18" fill="#0b7f6d"/>
<rect x="1248" y="770" width="7" height="9" fill="#0a8b76"/>
<rect x="1249" y="771" width="5" height="7" fill="#089981"/>
<rect x="1260" y="760" width="1" height="13" fill="#0b7f6d"/>
<rect x="1257" y="766" width="7" height="6" fill="#0a8b76"/>
<rect x="1258" y="767" width="5" height="4" fill="#089981"/>
<rect x="1269" y="764" width="1" height="15" fill="#c3303c"/>
<rect x="1266" y="765" width="7" height="13" fill="#dc3241"/>
<rect x="1267" y="766" width="5" height="11" fill="#f23645"/>
<rect x="1278" y="752" width="1" height="26" fill="#0b7f6d"/>
<rect x="1275" y="755" width="7" height="23" fill="#0a8b76"/>
<rect x="1276" y="756" width="5" height="21" fill="#089981"/>
<rect x="1287" y="758" width="1" height="42" fill="#c3303c"/>
<rect x="1284" y="758" width="7" height="35" fill="#dc3241"/>
<rect x="1285" y="759" width="5" height="33" fill="#f23645"/>
<rect x="1296" y="780" width="1" height="24" fill="#0b7f6d"/>
<rect x="1293" y="781" width="7" height="13" fill="#0a8b76"/>
<rect x="1294" y="782" width="5" height="11" fill="#089981"/>
<rect x="1305" y="764" width="1" height="19" fill="#0b7f6d"/>
<rect x="1302" y="770" width="7" height="13" fill="#0a8b76"/>
<rect x="1303" y="771" width="5" height="11" fill="#089981"/>
<rect x="1314" y="766" width="1" height="7" fill="#c3303c"/>
<rect x="1311" y="770" width="7" height="3" fill="#dc3241"/>
<rect x="1312" y="771" width="5" height="1" fill="#f23645"/>
<rect x="1323" y="768" width="1" height="11" fill="#c3303c"/>
<rect x="1320" y="772" width="7" height="7" fill="#dc3241"/>
<rect x="1321" y="773" width="5" height="5" fill="#f23645"/>
<rect x="1332" y="759" width="1" height="20" fill="#0b7f6d"/>
<rect x="1329" y="760" width="7" height="19" fill="#0a8b76"/>
<rect x="1330" y="761" width="5" height="17" fill="#089981"/>
<rect x="1341" y="745" width="1" height="23" fill="#0b7f6d"/>
<rect x="1338" y="754" width="7" height="9" fill="#0a8b76"/>
<rect x="1339" y="755" width="5" height="7" fill="#089981"/>
<rect x="1350" y="752" width="1" height="12" fill="#0b7f6d"/>
<rect x="1347" y="754" width="7" height="1" fill="#0b7f6d"/>
<rect x="1359" y="753" width="1" height="8" fill="#c3303c"/>
<rect x="1356" y="754" width="7" height="4" fill="#dc3241"/>
<rect x="1357" y="755" width="5" height="2" fill="#f23645"/>
<rect x="1368" y="748" width="1" height="16" fill="#c3303c"/>
<rect x="1365" y="755" width="7" height="5" fill="#dc3241"/>
<rect x="1366" y="756" width="5" height="3" fill="#f23645"/>
<rect x="1377" y="755" width="1" height="12" fill="#c3303c"/>
<rect x="1374" y="759" width="7" height="6" fill="#dc3241"/>
<rect x="1375" y="760" width="5" height="4" fill="#f23645"/>
<rect x="1386" y="755" width="1" height="14" fill="#0b7f6d"/>
<rect x="1383" y="757" width="7" height="8" fill="#0a8b76"/>
<rect x="1384" y="758" width="5" height="6" fill="#089981"/>
<rect x="1395" y="757" width="1" height="12" fill="#c3303c"/>
<rect x="1392" y="757" width="7" height="10" fill="#dc3241"/>
<rect x="1393" y="758" width="5" height="8" fill="#f23645"/>
<rect x="1404" y="759" width="1" height="12" fill="#0b7f6d"/>
<rect x="1401" y="767" width="7" height="1" fill="#0b7f6d"/>
<rect x="1413" y="766" width="1" height="9" fill="#c3303c"/>
<rect x="1410" y="767" width="7" height="7" fill="#dc3241"/>
<rect x="1411" y="768" width="5" height="5" fill="#f23645"/>
<rect x="1422" y="771" width="1" height="9" fill="#c3303c"/>
<rect x="1419" y="773" width="7" height="3" fill="#dc3241"/>
<rect x="1420" y="774" width="5" height="1" fill="#f23645"/>
<rect x="1431" y="760" width="1" height="15" fill="#0b7f6d"/>
<rect x="1428" y="768" width="7" height="7" fill="#0a8b76"/>
<rect x="1429" y="769" width="5" height="5" fill="#089981"/>
<rect x="1440" y="768" width="1" height="11" fill="#c3303c"/>
<rect x="1437" y="768" width="7" height="11" fill="#dc3241"/>
<rect x="1438" y="769" width="5" height="9" fill="#f23645"/>
<rect x="1449" y="778" width="1" height="10" fill="#c3303c"/>
<rect x="1446" y="778" width="7" height="4" fill="#dc3241"/>
<rect x="1447" y="779" width="5" height="2" fill="#f23645"/>
<rect x="1458" y="773" width="1" height="9" fill="#0b7f6d"/>
<rect x="1455" y="773" width="7" height="9" fill="#0a8b76"/>
<rect x="1456" y="774" width="5" height="7" fill="#089981"/>
<rect x="1467" y="770" width="1" height="7" fill="#0b7f6d"/>
<rect x="1464" y="771" width="7" height="3" fill="#0a8b76"/>
<rect x="1465" y="772" width="5" height="1" fill="#089981"/>
<rect x="1476" y="771" width="1" height="6" fill="#c3303c"/>
<rect x="1473" y="771" width="7" height="3" fill="#dc3241"/>
<rect x="1474" y="772" width="5" height="1" fill="#f23645"/>
<rect x="1485" y="772" width="1" height="6" fill="#0b7f6d"/>
<rect x="1482" y="772" width="7" height="2" fill="#0b7f6d"/>
<rect x="1494" y="772" width="1" height="6" fill="#c3303c"/>
<rect x="1491" y="772" width="7" height="6" fill="#dc3241"/>
<rect x="1492" y="773" width="5" height="4" fill="#f23645"/>
<rect x="1503" y="777" width="1" height="12" fill="#c3303c"/>
<rect x="1500" y="777" width="7" height="12" fill="#dc3241"/>
<rect x="1501" y="778" width="5" height="10" fill="#f23645"/>
<rect x="1512" y="789" width="1" height="5" fill="#c3303c"/>
<rect x="1509" y="789" width="7" height="4" fill="#dc3241"/>
<rect x="1510" y="790" width="5" height="2" fill="#f23645"/>
<rect x="1521" y="785" width="1" height="13" fill="#0b7f6d"/>
<rect x="1518" y="788" width="7" height="6" fill="#0a8b76"/>
<rect x="1519" y="789" width="5" height="4" fill="#089981"/>
<rect x="1530" y="788" width="1" height="17" fill="#c3303c"/>
<rect x="1527" y="790" width="7" height="15" fill="#dc3241"/>
<rect x="1528" y="791" width="5" height="13" fill="#f23645"/>
<rect x="1539" y="802" width="1" height="8" fill="#c3303c"/>
<rect x="1536" y="802" width="7" height="7" fill="#dc3241"/>
<rect x="1537" y="803" width="5" height="5" fill="#f23645"/>
<rect x="1548" y="802" width="1" height="10" fill="#c3303c"/>
<rect x="1545" y="807" width="7" height="1" fill="#c3303c"/>
<rect x="1557" y="808" width="1" height="14" fill="#c3303c"/>
<rect x="1554" y="808" width="7" height="14" fill="#dc3241"/>
<rect x="1555" y="809" width="5" height="12" fill="#f23645"/>
<rect x="1566" y="820" width="1" height="8" fill="#c3303c"/>
<rect x="1563" y="821" width="7" height="6" fill="#dc3241"/>
<rect x="1564" y="822" width="5" height="4" fill="#f23645"/>
<rect x="1575" y="819" width="1" height="7" fill="#0b7f6d"/>
<rect x="1572" y="825" width="7" height="1" fill="#0b7f6d"/>
<rect x="1584" y="820" width="1" height="6" fill="#c3303c"/>
<rect x="1581" y="825" width="7" height="1" fill="#c3303c"/>
<rect x="1593" y="826" width="1" height="12" fill="#c3303c"/>
<rect x="1590" y="826" width="7" height="4" fill="#dc3241"/>
<rect x="1591" y="827" width="5" height="2" fill="#f23645"/>
<rect x="1602" y="818" width="1" height="12" fill="#0b7f6d"/>
<rect x="1599" y="825" width="7" height="4" fill="#0a8b76"/>
<rect x="1600" y="826" width="5" height="2" fill="#089981"/>
<rect x="1611" y="825" width="1" height="13" fill="#c3303c"/>
<rect x="1608" y="825" width="7" height="10" fill="#dc3241"/>
<rect x="1609" y="826" width="5" height="8" fill="#f23645"/>
<rect x="1620" y="831" width="1" height="7" fill="#0b7f6d"/>
<rect x="1617" y="831" width="7" height="4" fill="#0a8b76"/>
<rect x="1618" y="832" width="5" height="2" fill="#089981"/>
<rect x="1629" y="831" width="1" height="8" fill="#c3303c"/>
<rect x="1626" y="831" width="7" height="8" fill="#dc3241"/>
<rect x="1627" y="832" width="5" height="6" fill="#f23645"/>
<rect x="1638" y="833" width="1" height="9" fill="#c3303c"/>
<rect x="1635" y="838" width="7" height="4" fill="#dc3241"/>
<rect x="1636" y="839" width="5" height="2" fill="#f23645"/>
<rect x="1647" y="840" width="1" height="12" fill="#c3303c"/>
<rect x="1644" y="841" width="7" height="8" fill="#dc3241"/>
<rect x="1645" y="842" width="5" height="6" fill="#f23645"/>
<rect x="1656" y="847" width="1" height="6" fill="#0b7f6d"/>
<rect x="1653" y="848" width="7" height="1" fill="#0b7f6d"/>
<rect x="1665" y="845" width="1" height="13" fill="#c3303c"/>
<rect x="1662" y="848" width="7" height="6" fill="#dc3241"/>
<rect x="1663" y="849" width="5" height="4" fill="#f23645"/>
<rect x="1674" y="846" width="1" height="10" fill="#0b7f6d"/>
<rect x="1671" y="847" width="7" height="7" fill="#0a8b76"/>
<rect x="1672" y="848" width="5" height="5" fill="#089981"/>
<rect x="1683" y="846" width="1" height="7" fill="#c3303c"/>
<rect x="1680" y="847" width="7" height="1" fill="#c3303c"/>
<rect x="1692" y="833" width="1" height="16" fill="#0b7f6d"/>
<rect x="1689" y="836" width="7" height="13" fill="#0a8b76"/>
<rect x="1690" y="837" width="5" height="11" fill="#089981"/>
<rect x="1701" y="825" width="1" height="14" fill="#0b7f6d"/>
<rect x="1698" y="827" width="7" height="11" fill="#0a8b76"/>
<rect x="1699" y="828" width="5" height="9" fill="#089981"/>
<rect x="1710" y="828" width="1" height="11" fill="#c3303c"/>
<rect x="1707" y="828" width="7" height="10" fill="#dc3241"/>
<rect x="1708" y="829" width="5" height="8" fill="#f23645"/>
<rect x="1719" y="837" width="1" height="14" fill="#c3303c"/>
<rect x="1716" y="837" width="7" height="10" fill="#dc3241"/>
<rect x="1717" y="838" width="5" height="8" fill="#f23645"/>
<rect x="1728" y="837" width="1" height="16" fill="#c3303c"/>
<rect x="1725" y="847" width="7" height="6" fill="#dc3241"/>
<rect x="1726" y="848" width="5" height="4" fill="#f23645"/>
<rect x="1737" y="851" width="1" height="8" fill="#0b7f6d"/>
<rect x="1734" y="853" width="7" height="1" fill="#0b7f6d"/>
<rect x="1746" y="852" width="1" height="7" fill="#0b7f6d"/>
<rect x="1743" y="853" width="7" height="1" fill="#0b7f6d"/>
<rect x="1755" y="833" width="1" height="20" fill="#0b7f6d"/>
<rect x="1752" y="837" width="7" height="16" fill="#0a8b76"/>
<rect x="1753" y="838" width="5" height="14" fill="#089981"/>
<rect x="1764" y="834" width="1" height="9" fill="#0b7f6d"/>
<rect x="1761" y="837" width="7" height="2" fill="#0b7f6d"/>
<line x1="3" y1="837.5" x2="1859" y2="837.5" stroke="#12705f" stroke-width="1" stroke-dasharray="1 2"/>
<line x1="1071.5" y1="3" x2="1071.5" y2="1124" stroke="#8a8a8a" stroke-width="1" stroke-dasharray="5 6"/>
<line x1="3" y1="681.5" x2="1826" y2="681.5" stroke="#8c8c8c" stroke-width="1" stroke-dasharray="5 6"/>
<rect x="3" y="1166" width="1952" height="1" fill="#ebebeb"/>
</g>
<circle cx="29.5" cy="27.3" r="13.4" fill="#15181c"/>
<g fill="#ffffff"><rect x="23.2" y="21.3" width="12.7" height="1.6"/><rect x="34.2" y="21.3" width="1.7" height="12.6"/><rect x="23.2" y="32.3" width="12.7" height="1.6"/><rect x="23.2" y="24.4" width="9.9" height="1.6"/><rect x="23.2" y="24.4" width="1.7" height="6.4"/><rect x="23.2" y="29.2" width="9.8" height="1.6"/><rect x="26" y="26.9" width="9.9" height="1.5"/></g>
<text x="48.9" y="35.8" font-size="24.0px" fill="#131313" font-weight="normal" text-anchor="start" textLength="61.9" lengthAdjust="spacingAndGlyphs" stroke="#131313" stroke-width="0.43">C3.ai,</text>
<text x="121.8" y="35.8" font-size="24.0px" fill="#131313" font-weight="normal" text-anchor="start" textLength="36.4" lengthAdjust="spacingAndGlyphs" stroke="#131313" stroke-width="0.43">Inc.</text>
<circle cx="169.5" cy="28.9" r="2" fill="#131313"/>
<text x="180.3" y="35.8" font-size="24.0px" fill="#131313" font-weight="normal" text-anchor="start" textLength="9.7" lengthAdjust="spacingAndGlyphs" stroke="#131313" stroke-width="0.43">5</text>
<circle cx="200.5" cy="28.9" r="2" fill="#131313"/>
<text x="210.9" y="35.8" font-size="24.0px" fill="#131313" font-weight="normal" text-anchor="start" textLength="51.1" lengthAdjust="spacingAndGlyphs" stroke="#131313" stroke-width="0.43">NYSE</text>
<path d="M298.5 14 H315 V41 H298.5 a13.5 13.5 0 0 1 0 -27 Z" fill="#efefef"/>
<path d="M315 14 H331.5 a13.5 13.5 0 0 1 0 27 H315 Z" fill="#f4abc6"/>
<rect x="294.6" y="24.3" width="14.8" height="5.6" rx="2.8" fill="#9b9b9b"/>
<g fill="#c2185b"><path d="M322.6 25.0 C323.6 22.8 325.2 21.8 326.8 21.9 C329 22 330.5 23.9 332.4 23.9 C333.8 23.9 334.6 23 335.5 21.9 C335.4 24.6 334 26.4 331.9 26.4 C329.8 26.4 328.2 24.4 326.4 24.4 C325 24.4 324 25.2 323.2 26.4 Z"/><path d="M322.6 25.0 C323.6 22.8 325.2 21.8 326.8 21.9 C329 22 330.5 23.9 332.4 23.9 C333.8 23.9 334.6 23 335.5 21.9 C335.4 24.6 334 26.4 331.9 26.4 C329.8 26.4 328.2 24.4 326.4 24.4 C325 24.4 324 25.2 323.2 26.4 Z" transform="translate(0 5.9)"/></g>
<text x="369.7" y="33.7" font-size="19.5px" fill="#131313" font-weight="normal" text-anchor="start" textLength="12.4" lengthAdjust="spacingAndGlyphs" stroke="#131313" stroke-width="0.35">O</text>
<text x="386.4" y="33.7" font-size="19.5px" fill="#dd3546" font-weight="normal" text-anchor="start" textLength="45.5" lengthAdjust="spacingAndGlyphs" stroke="#dd3546" stroke-width="0.35">15.18</text>
<text x="442.1" y="33.7" font-size="19.5px" fill="#131313" font-weight="normal" text-anchor="start" textLength="10.8" lengthAdjust="spacingAndGlyphs" stroke="#131313" stroke-width="0.35">H</text>
<text x="457.4" y="33.7" font-size="19.5px" fill="#dd3546" font-weight="normal" text-anchor="start" textLength="45.7" lengthAdjust="spacingAndGlyphs" stroke="#dd3546" stroke-width="0.35">15.37</text>
<text x="513.5" y="33.7" font-size="19.5px" fill="#131313" font-weight="normal" text-anchor="start" textLength="8.4" lengthAdjust="spacingAndGlyphs" stroke="#131313" stroke-width="0.35">L</text>
<text x="526.1" y="33.7" font-size="19.5px" fill="#dd3546" font-weight="normal" text-anchor="start" textLength="43.8" lengthAdjust="spacingAndGlyphs" stroke="#dd3546" stroke-width="0.35">14.71</text>
<text x="581.3" y="33.7" font-size="19.5px" fill="#131313" font-weight="normal" text-anchor="start" textLength="11.0" lengthAdjust="spacingAndGlyphs" stroke="#131313" stroke-width="0.35">C</text>
<text x="596.0" y="33.7" font-size="19.5px" fill="#dd3546" font-weight="normal" text-anchor="start" textLength="45.3" lengthAdjust="spacingAndGlyphs" stroke="#dd3546" stroke-width="0.35">14.96</text>
<text x="652.2" y="33.7" font-size="19.5px" fill="#dd3546" font-weight="normal" text-anchor="start" textLength="46.3" lengthAdjust="spacingAndGlyphs" stroke="#dd3546" stroke-width="0.35">−7.19</text>
<text x="706.6" y="33.7" font-size="19.5px" fill="#dd3546" font-weight="normal" text-anchor="start" textLength="81.7" lengthAdjust="spacingAndGlyphs" stroke="#dd3546" stroke-width="0.35">(−32.46%)</text>
<rect x="15.75" y="51.75" width="79.5" height="49.5" rx="8.5" fill="#ffffff" stroke="#dc3c4b" stroke-width="1.25"/>
<text x="32.6" y="71.8" font-size="18.0px" fill="#dd3546" font-weight="bold" text-anchor="start" textLength="46.9" lengthAdjust="spacingAndGlyphs">16.47</text>
<text x="38.0" y="91.8" font-size="16.0px" fill="#dd3546" font-weight="normal" text-anchor="start" textLength="35.0" lengthAdjust="spacingAndGlyphs" stroke="#dd3546" stroke-width="0.29">SELL</text>
<text x="108.2" y="82.0" font-size="15.0px" fill="#131313" font-weight="normal" text-anchor="start" textLength="28.2" lengthAdjust="spacingAndGlyphs" stroke="#131313" stroke-width="0.27">0.00</text>
<rect x="149.75" y="51.75" width="79.5" height="49.5" rx="8.5" fill="#ffffff" stroke="#3564e6" stroke-width="1.25"/>
<text x="166.6" y="71.8" font-size="18.0px" fill="#2962ff" font-weight="bold" text-anchor="start" textLength="46.9" lengthAdjust="spacingAndGlyphs">16.47</text>
<text x="174.3" y="91.8" font-size="16.0px" fill="#2962ff" font-weight="normal" text-anchor="start" textLength="29.5" lengthAdjust="spacingAndGlyphs" stroke="#2962ff" stroke-width="0.29">BUY</text>
<text x="16.4" y="132.6" font-size="19.5px" fill="#131313" font-weight="normal" text-anchor="start" textLength="25.6" lengthAdjust="spacingAndGlyphs" stroke="#131313" stroke-width="0.35">Vol</text>
<text x="55.4" y="132.6" font-size="19.5px" fill="#e25a58" font-weight="normal" text-anchor="start" textLength="54.5" lengthAdjust="spacingAndGlyphs" stroke="#e25a58" stroke-width="0.35">366.22</text>
<text x="115.3" y="132.6" font-size="19.5px" fill="#e25a58" font-weight="normal" text-anchor="start" textLength="11.9" lengthAdjust="spacingAndGlyphs" stroke="#e25a58" stroke-width="0.35">K</text>
<rect x="12.5" y="149.5" width="41.5" height="29" rx="4.5" fill="rgba(255,255,255,0.78)" stroke="#dcdcdc" stroke-width="1"/>
<path d="M27.3 166.6 L33.2 161.4 L39.1 166.6" fill="none" stroke="#111" stroke-width="1.7"/>
<text x="1873.2" y="55.8" font-size="18.0px" fill="#131313" font-weight="normal" text-anchor="start" textLength="43.9" lengthAdjust="spacingAndGlyphs" stroke="#131313" stroke-width="0.32">23.50</text>
<text x="1873.2" y="111.8" font-size="18.0px" fill="#131313" font-weight="normal" text-anchor="start" textLength="43.9" lengthAdjust="spacingAndGlyphs" stroke="#131313" stroke-width="0.32">23.00</text>
<text x="1873.2" y="167.7" font-size="18.0px" fill="#131313" font-weight="normal" text-anchor="start" textLength="43.9" lengthAdjust="spacingAndGlyphs" stroke="#131313" stroke-width="0.32">22.50</text>
<text x="1873.2" y="223.7" font-size="18.0px" fill="#131313" font-weight="normal" text-anchor="start" textLength="43.9" lengthAdjust="spacingAndGlyphs" stroke="#131313" stroke-width="0.32">22.00</text>
<text x="1873.2" y="279.6" font-size="18.0px" fill="#131313" font-weight="normal" text-anchor="start" textLength="43.9" lengthAdjust="spacingAndGlyphs" stroke="#131313" stroke-width="0.32">21.50</text>
<text x="1873.2" y="335.6" font-size="18.0px" fill="#131313" font-weight="normal" text-anchor="start" textLength="43.9" lengthAdjust="spacingAndGlyphs" stroke="#131313" stroke-width="0.32">21.00</text>
<text x="1873.2" y="391.5" font-size="18.0px" fill="#131313" font-weight="normal" text-anchor="start" textLength="43.9" lengthAdjust="spacingAndGlyphs" stroke="#131313" stroke-width="0.32">20.50</text>
<text x="1873.2" y="447.5" font-size="18.0px" fill="#131313" font-weight="normal" text-anchor="start" textLength="43.9" lengthAdjust="spacingAndGlyphs" stroke="#131313" stroke-width="0.32">20.00</text>
<text x="1873.2" y="503.4" font-size="18.0px" fill="#131313" font-weight="normal" text-anchor="start" textLength="43.9" lengthAdjust="spacingAndGlyphs" stroke="#131313" stroke-width="0.32">19.50</text>
<text x="1873.2" y="559.4" font-size="18.0px" fill="#131313" font-weight="normal" text-anchor="start" textLength="43.9" lengthAdjust="spacingAndGlyphs" stroke="#131313" stroke-width="0.32">19.00</text>
<text x="1873.2" y="615.3" font-size="18.0px" fill="#131313" font-weight="normal" text-anchor="start" textLength="43.9" lengthAdjust="spacingAndGlyphs" stroke="#131313" stroke-width="0.32">18.50</text>
<text x="1873.2" y="671.2" font-size="18.0px" fill="#131313" font-weight="normal" text-anchor="start" textLength="43.9" lengthAdjust="spacingAndGlyphs" stroke="#131313" stroke-width="0.32">18.00</text>
<text x="1873.2" y="727.2" font-size="18.0px" fill="#131313" font-weight="normal" text-anchor="start" textLength="43.9" lengthAdjust="spacingAndGlyphs" stroke="#131313" stroke-width="0.32">17.50</text>
<text x="1873.2" y="783.1" font-size="18.0px" fill="#131313" font-weight="normal" text-anchor="start" textLength="43.9" lengthAdjust="spacingAndGlyphs" stroke="#131313" stroke-width="0.32">17.00</text>
<text x="1873.2" y="839.1" font-size="18.0px" fill="#131313" font-weight="normal" text-anchor="start" textLength="43.9" lengthAdjust="spacingAndGlyphs" stroke="#131313" stroke-width="0.32">16.50</text>
<text x="1873.2" y="895.0" font-size="18.0px" fill="#131313" font-weight="normal" text-anchor="start" textLength="43.9" lengthAdjust="spacingAndGlyphs" stroke="#131313" stroke-width="0.32">16.00</text>
<text x="1873.2" y="951.0" font-size="18.0px" fill="#131313" font-weight="normal" text-anchor="start" textLength="43.9" lengthAdjust="spacingAndGlyphs" stroke="#131313" stroke-width="0.32">15.50</text>
<text x="1873.2" y="1007.0" font-size="18.0px" fill="#131313" font-weight="normal" text-anchor="start" textLength="43.9" lengthAdjust="spacingAndGlyphs" stroke="#131313" stroke-width="0.32">15.00</text>
<text x="1873.2" y="1062.9" font-size="18.0px" fill="#131313" font-weight="normal" text-anchor="start" textLength="43.9" lengthAdjust="spacingAndGlyphs" stroke="#131313" stroke-width="0.32">14.50</text>
<text x="1873.2" y="1118.8" font-size="18.0px" fill="#131313" font-weight="normal" text-anchor="start" textLength="43.9" lengthAdjust="spacingAndGlyphs" stroke="#131313" stroke-width="0.32">14.00</text>
<text x="23.7" y="1152.0" font-size="18.0px" fill="#131313" font-weight="normal" text-anchor="start" textLength="43.6" lengthAdjust="spacingAndGlyphs" stroke="#131313" stroke-width="0.32">01:00</text>
<text x="131.7" y="1152.0" font-size="18.0px" fill="#131313" font-weight="normal" text-anchor="start" textLength="43.6" lengthAdjust="spacingAndGlyphs" stroke="#131313" stroke-width="0.32">02:00</text>
<text x="239.7" y="1152.0" font-size="18.0px" fill="#131313" font-weight="normal" text-anchor="start" textLength="43.6" lengthAdjust="spacingAndGlyphs" stroke="#131313" stroke-width="0.32">03:00</text>
<text x="347.7" y="1152.0" font-size="18.0px" fill="#131313" font-weight="normal" text-anchor="start" textLength="43.6" lengthAdjust="spacingAndGlyphs" stroke="#131313" stroke-width="0.32">21:30</text>
<text x="428.7" y="1152.0" font-size="18.0px" fill="#131313" font-weight="normal" text-anchor="start" textLength="43.6" lengthAdjust="spacingAndGlyphs" stroke="#131313" stroke-width="0.32">22:15</text>
<text x="509.7" y="1152.0" font-size="18.0px" fill="#131313" font-weight="normal" text-anchor="start" textLength="43.6" lengthAdjust="spacingAndGlyphs" stroke="#131313" stroke-width="0.32">23:00</text>
<text x="634.8" y="1152.0" font-size="18.0px" fill="#131313" font-weight="normal" text-anchor="start" textLength="9.4" lengthAdjust="spacingAndGlyphs" stroke="#131313" stroke-width="0.32">9</text>
<text x="725.7" y="1152.0" font-size="18.0px" fill="#131313" font-weight="normal" text-anchor="start" textLength="43.6" lengthAdjust="spacingAndGlyphs" stroke="#131313" stroke-width="0.32">01:00</text>
<text x="833.7" y="1152.0" font-size="18.0px" fill="#131313" font-weight="normal" text-anchor="start" textLength="43.6" lengthAdjust="spacingAndGlyphs" stroke="#131313" stroke-width="0.32">02:00</text>
<text x="941.7" y="1152.0" font-size="18.0px" fill="#131313" font-weight="normal" text-anchor="start" textLength="43.6" lengthAdjust="spacingAndGlyphs" stroke="#131313" stroke-width="0.32">03:00</text>
<text x="1211.7" y="1152.0" font-size="18.0px" fill="#131313" font-weight="normal" text-anchor="start" textLength="43.6" lengthAdjust="spacingAndGlyphs" stroke="#131313" stroke-width="0.32">23:00</text>
<text x="1332.0" y="1152.0" font-size="18.0px" fill="#131313" font-weight="normal" text-anchor="start" textLength="19.0" lengthAdjust="spacingAndGlyphs" stroke="#131313" stroke-width="0.32">12</text>
<text x="1427.7" y="1152.0" font-size="18.0px" fill="#131313" font-weight="normal" text-anchor="start" textLength="43.6" lengthAdjust="spacingAndGlyphs" stroke="#131313" stroke-width="0.32">01:00</text>
<text x="1535.7" y="1152.0" font-size="18.0px" fill="#131313" font-weight="normal" text-anchor="start" textLength="43.6" lengthAdjust="spacingAndGlyphs" stroke="#131313" stroke-width="0.32">02:00</text>
<text x="1643.7" y="1152.0" font-size="18.0px" fill="#131313" font-weight="normal" text-anchor="start" textLength="43.6" lengthAdjust="spacingAndGlyphs" stroke="#131313" stroke-width="0.32">03:00</text>
<text x="1751.7" y="1152.0" font-size="18.0px" fill="#131313" font-weight="normal" text-anchor="start" textLength="43.6" lengthAdjust="spacingAndGlyphs" stroke="#131313" stroke-width="0.32">21:30</text>
<path d="M1896.4 1145.7 L1901.6 1136.6 H1912.9 L1918.1 1145.7 L1912.9 1154.9 H1901.6 Z" fill="none" stroke="#111" stroke-width="1.6" stroke-linejoin="miter"/>
<circle cx="1907.2" cy="1145.7" r="2.8" fill="none" stroke="#111" stroke-width="1.5"/>
<path d="M1860 824 H1922 a3 3 0 0 1 3 3 V848 a3 3 0 0 1 -3 3 H1860 Z" fill="#089981"/>
<text x="1873.9" y="844.1" font-size="18.0px" fill="#ffffff" font-weight="bold" text-anchor="start" textLength="43.5" lengthAdjust="spacingAndGlyphs">16.47</text>
<path d="M1859 665 H1829 a3 3 0 0 0 -3 3 V695 a3 3 0 0 0 3 3 H1859 Z" fill="#131313"/>
<path d="M1860 665 H1922 a3 3 0 0 1 3 3 V695 a3 3 0 0 1 -3 3 H1860 Z" fill="#131313"/>
<circle cx="1842.5" cy="681.5" r="10.5" fill="none" stroke="#d8d8d8" stroke-width="1.2"/>
<path d="M1836 681.5 H1849 M1842.5 675 V688" stroke="#ffffff" stroke-width="1.2" fill="none"/>
<text x="1873.9" y="688.2" font-size="18.0px" fill="#ffffff" font-weight="bold" text-anchor="start" textLength="43.3" lengthAdjust="spacingAndGlyphs">17.86</text>
<path d="M1860 989 H1944 a3 3 0 0 1 3 3 V1013 a3 3 0 0 1 -3 3 H1860 Z" fill="#26a69a"/>
<text x="1873.7" y="1009.0" font-size="18.0px" fill="#ffffff" font-weight="bold" text-anchor="start" textLength="51.5" lengthAdjust="spacingAndGlyphs">158.45</text>
<text x="1929.4" y="1009.0" font-size="18.0px" fill="#ffffff" font-weight="bold" text-anchor="start" textLength="10.6" lengthAdjust="spacingAndGlyphs">K</text>
<path d="M969 1124 H1176 V1156.5 a3 3 0 0 1 -3 3 H972 a3 3 0 0 1 -3 -3 Z" fill="#131313"/>
<text x="981.6" y="1152.1" font-size="18.0px" fill="#ffffff" font-weight="bold" text-anchor="start" textLength="118.7" lengthAdjust="spacingAndGlyphs">Mon 11 Aug '25</text>
<text x="1117.2" y="1152.1" font-size="18.0px" fill="#ffffff" font-weight="bold" text-anchor="start" textLength="44.0" lengthAdjust="spacingAndGlyphs">21:30</text>
<g fill="#131313" stroke="#ffffff" stroke-width="1.5" paint-order="stroke">
<path d="M21 1080.6 H38.9 V1102.8 H29.9 V1089.6 H21 Z"/>
<circle cx="46.1" cy="1084.9" r="4"/>
<path d="M55.8 1080.6 H65.7 L57.1 1102.8 H46.5 Z"/>
</g>
<text x="76.4" y="1102.8" font-size="31.0px" fill="#131313" font-weight="bold" text-anchor="start" textLength="181.5" lengthAdjust="spacingAndGlyphs" stroke="#ffffff" stroke-width="1.5" paint-order="stroke">TradingView</text>
<circle cx="1764.8" cy="1104.4" r="16.4" fill="#ffffff"/>
<path d="M1751.3 1100.3 A14.1 14.1 0 1 1 1754.1 1113.5" fill="none" stroke="#8e24aa" stroke-width="2.1"/>
<path d="M1769.6 1095.9 L1757.6 1105.1 L1764.4 1105.3 L1759.4 1112.9 L1771.7 1103.3 L1765 1103.1 Z" fill="#9c27b0"/>
<path d="M1748.5 1102 C1749.6 1106.4 1751.6 1108.4 1756 1109.5 C1751.6 1110.6 1749.6 1112.6 1748.5 1117 C1747.4 1112.6 1745.4 1110.6 1741 1109.5 C1745.4 1108.4 1747.4 1106.4 1748.5 1102 Z" fill="#7c4dff" stroke="#ffffff" stroke-width="1.6" paint-order="stroke"/>
</svg></body></html>
